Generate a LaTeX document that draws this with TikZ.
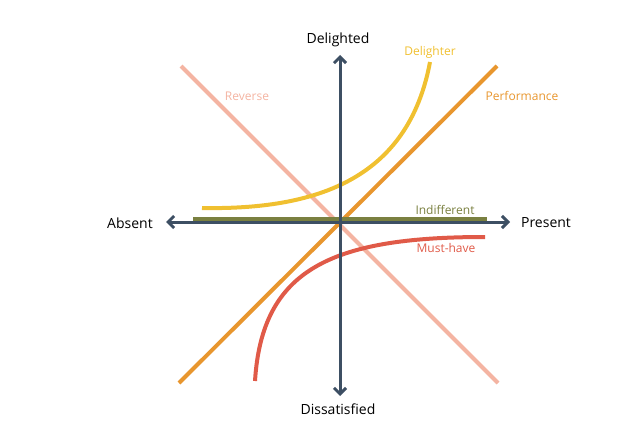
\documentclass[tikz,border=0pt]{standalone}
\usepackage{fontspec}
\setmainfont{Open Sans}
\usetikzlibrary{arrows.meta}
\definecolor{axis}{HTML}{3D4F63}
\definecolor{rev}{HTML}{F4B4A2}
\definecolor{perf}{HTML}{E8962E}
\definecolor{indif}{HTML}{7A8040}
\definecolor{delight}{HTML}{F0C030}
\definecolor{must}{HTML}{E05A48}
\begin{document}
\begin{tikzpicture}[x=1pt,y=-1pt,
  ax/.style={draw=axis,line width=3pt,-{Straight Barb[length=6pt,width=12pt,line width=3pt]}},
  crv/.style={line width=4pt},
  lbl/.style={font=\fontsize{12}{14}\selectfont},
  axl/.style={font=\fontsize{14}{16}\selectfont,text=black}]
\useasboundingbox (0,0) rectangle (640,444);
\coordinate (o) at (340,222);
\coordinate (r1) at (181,66); \coordinate (r2) at (498,383);
\coordinate (p1) at (179,383); \coordinate (p2) at (497,66);
\coordinate (i1) at (193,219); \coordinate (i2) at (487,219);
\draw[rev,line width=4pt] (r1) -- (r2);
\draw[perf,line width=4pt] (p1) -- (p2);
\draw[indif,line width=5pt] (i1) -- (i2);
\coordinate (d1) at (202,208); \coordinate (d2) at (430,62);
\draw[delight,crv] (d1) .. controls (315,210) and (408,180) .. (d2);
\coordinate (m1) at (255,381); \coordinate (m2) at (485,237);
\draw[must,crv] (m1) .. controls (262,270) and (330,237) .. (m2);
\coordinate (xa) at (166,222); \coordinate (xb) at (510,222);
\coordinate (ya) at (340,55); \coordinate (yb) at (340,396);
\draw[ax] (o) -- (xa); \draw[ax] (o) -- (xb);
\draw[ax] (o) -- (ya); \draw[ax] (o) -- (yb);
\node[axl] (n1) at (338,40) {Delighted};
\node[axl] (n2) at (338,409) {Dissatisfied};
\node[axl] (n3) at (130,223) {Absent};
\node[axl] (n4) at (546,223) {Present};
\node[lbl,text=rev] (l1) at (247,96) {Reverse};
\node[lbl,text=perf] (l2) at (522,96) {Performance};
\node[lbl,text=indif] (l3) at (445,210) {Indifferent};
\node[lbl,text=delight] (l4) at (430,52) {Delighter};
\node[lbl,text=must] (l5) at (446,248) {Must-have};
\end{tikzpicture}
\end{document}
